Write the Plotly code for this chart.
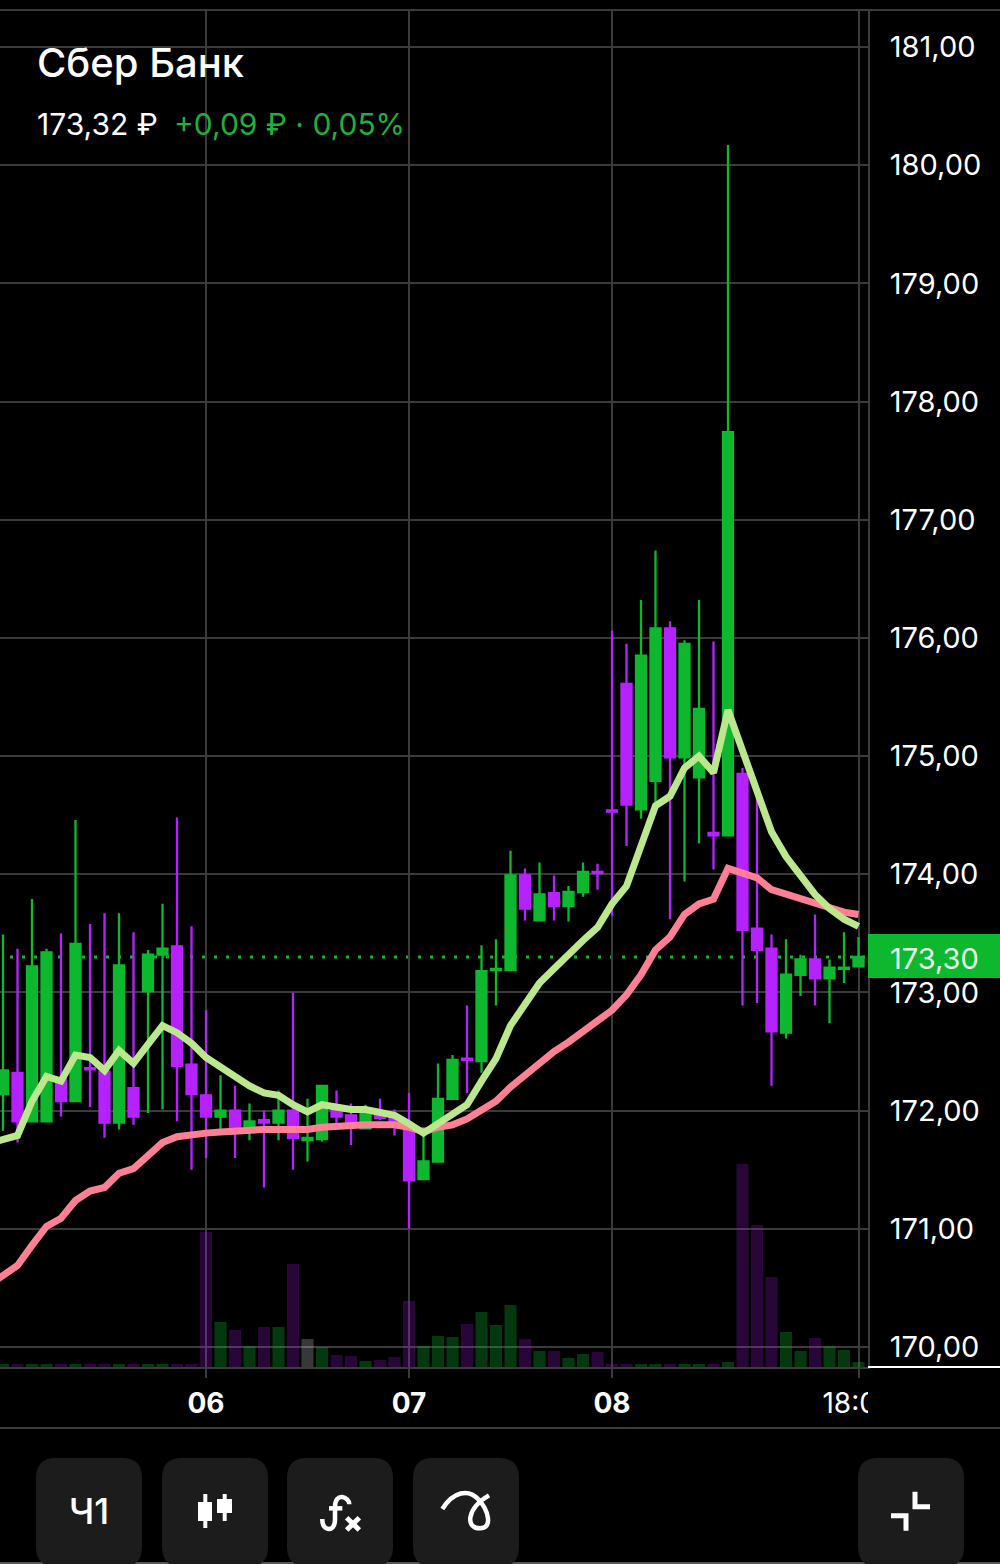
import plotly.graph_objects as go

# Candle index -1 is just off-screen; it only carries the averages to the left edge.
idx = list(range(-1, 60))
opens = [171.90,172.14,172.32,171.91,171.91,172.27,172.08,172.36,172.33,171.90,172.19,173.01,173.32,173.39,172.39,172.13,171.95,172.00,171.85,171.92,171.90,
         172.00,171.75,171.76,172.01,171.96,171.85,171.96,171.94,171.88,171.42,171.57,172.10,172.44,172.42,173.19,173.19,173.99,173.61,173.84,173.73,173.85,
         174.02,174.54,175.61,174.55,174.79,176.08,174.99,174.82,174.35,174.33,174.85,173.54,173.37,172.66,173.15,173.28,173.12,173.20,173.22]
closes = [172.10,172.34,171.91,173.22,173.34,172.08,173.41,172.35,171.90,173.23,171.95,173.32,173.37,172.38,172.14,171.95,172.00,171.85,171.91,171.90,172.00,
          171.77,171.77,172.21,171.95,171.89,172.02,171.94,171.88,171.41,171.57,172.10,172.43,172.43,173.18,173.20,173.99,173.71,173.83,173.73,173.85,174.02,
          174.01,174.53,174.59,175.85,176.08,174.99,175.95,175.40,174.33,177.74,173.53,173.36,172.67,173.15,173.28,173.12,173.21,173.21,173.30]
highs = [172.30,173.49,173.37,173.79,173.37,173.50,174.46,173.58,173.67,173.67,173.51,173.36,173.75,174.48,173.56,172.85,172.30,172.21,172.06,172.00,172.17,
         173.00,172.10,172.21,172.17,172.06,172.05,172.10,172.01,172.15,171.86,172.40,172.47,172.89,173.40,173.45,174.20,174.05,174.10,173.99,173.90,174.10,
         174.09,176.06,175.95,176.32,176.74,176.14,175.98,176.32,175.97,180.17,174.90,174.66,173.49,173.45,173.32,173.66,173.28,173.51,173.47]
lows = [171.70,171.83,171.73,171.91,171.91,171.95,172.08,172.03,171.77,171.84,171.88,171.98,172.01,171.91,171.50,171.60,171.84,171.60,171.75,171.35,171.75,
        171.50,171.57,171.74,171.89,171.71,171.84,171.92,171.79,171.00,171.42,171.57,172.10,172.15,172.32,172.89,173.19,173.61,173.61,173.61,173.60,173.81,
        173.87,173.65,174.24,174.47,174.60,173.62,173.94,174.26,174.04,174.33,172.89,172.91,172.21,172.61,172.97,172.89,172.74,173.08,173.22]
avg_fast = [171.72,171.76,171.79,172.08,172.29,172.25,172.47,172.45,172.34,172.51,172.40,172.56,172.72,172.66,172.57,172.45,172.37,172.28,172.21,172.15,172.13,
            172.05,171.99,172.05,172.03,172.01,172.01,171.99,171.96,171.89,171.81,171.89,171.97,172.05,172.25,172.44,172.72,172.91,173.08,173.20,173.33,173.44,
            173.55,173.75,173.90,174.23,174.58,174.66,174.90,175.00,174.86,175.39,175.05,174.71,174.36,174.15,173.98,173.83,173.71,173.62,173.56]
avg_slow = [170.52,170.60,170.69,170.86,171.02,171.09,171.24,171.32,171.35,171.47,171.51,171.62,171.73,171.78,171.80,171.81,171.82,171.83,171.83,171.84,171.84,
            171.84,171.84,171.86,171.87,171.87,171.88,171.88,171.88,171.86,171.82,171.86,171.88,171.93,172.00,172.08,172.20,172.30,172.40,172.50,172.58,172.67,
            172.75,172.85,172.98,173.15,173.36,173.47,173.66,173.75,173.79,174.05,174.01,173.97,173.87,173.83,173.79,173.75,173.71,173.68,173.66]
volumes = [3,3,3,3,3,3,3,3,3,3,3,3,3,3,3,135,45,37,21,40,40,103,28,20,12,11,6,7,10,66,21,31,30,43,55,42,62,28,16,16,9,13,15,3,3,3,3,3,3,3,3,5,203,142,90,35,16,29,21,17,5]
# Candle index 21 has a grey volume bar in the picture.
neutral_volume = [21]

price_ticks = [181,180,179,178,177,176,175,174,173,172,171,170]
price_labels = ["181,00","180,00","179,00","178,00","177,00","176,00","175,00","174,00","173,00","172,00","171,00","170,00"]
date_ticks = [14,28,42,59]
date_labels = ["<b>06</b>","<b>07</b>","<b>08</b>","18:00"]
last_price = 173.30

GREEN = "#0DB82F"
PURPLE = "#B622FF"
LIME = "#BBE88C"
PINK = "#FF7F94"
GRID = "#3B3B3B"
FONT = "Inter"
BTN = "#1C1C1C"

def px(x): return x / 1000
def py(y): return 1 - y / 1564

def path(cmds):
    out = []
    for c in cmds:
        if isinstance(c, str):
            out.append(c)
        else:
            out.append(f"{px(c[0]):.5f},{py(c[1]):.5f}")
    return " ".join(out)

vol_colors = []
for k, (i, o, c) in enumerate(zip(idx, opens, closes)):
    if i in neutral_volume:
        vol_colors.append("rgba(255,255,255,0.22)")
    elif c >= o:
        vol_colors.append("rgba(13,184,47,0.30)")
    else:
        vol_colors.append("rgba(182,34,255,0.22)")

fig = go.Figure()
fig.add_trace(go.Bar(x=idx, y=volumes, marker=dict(color=vol_colors, line=dict(width=0)), yaxis="y2", showlegend=False, hoverinfo="skip"))
fig.add_trace(go.Candlestick(x=idx, open=opens, high=highs, low=lows, close=closes,
    increasing=dict(line=dict(color=GREEN, width=2.3), fillcolor=GREEN),
    decreasing=dict(line=dict(color=PURPLE, width=2.3), fillcolor=PURPLE),
    whiskerwidth=0, showlegend=False, hoverinfo="skip"))
fig.add_trace(go.Scatter(x=idx, y=avg_slow, mode="lines", line=dict(color=PINK, width=7), showlegend=False, hoverinfo="skip"))
fig.add_trace(go.Scatter(x=idx, y=avg_fast, mode="lines", line=dict(color=LIME, width=7), showlegend=False, hoverinfo="skip"))

shapes = []
def hline(x0, x1, y, color=GRID, w=2, layer="below"):
    shapes.append(dict(type="line", xref="paper", yref="paper", x0=px(x0), x1=px(x1), y0=py(y), y1=py(y), line=dict(color=color, width=w), layer=layer))

hline(0, 1000, 10)
hline(0, 1000, 1428)
hline(0, 1000, 1563, "#555555", 2)
hline(868, 1000, 1367, "#FFFFFF", 2, "above")
# last-price dotted line
shapes.append(dict(type="line", xref="paper", yref="y", x0=px(10), x1=px(868), y0=last_price, y1=last_price,
                   line=dict(color=GREEN, width=3, dash="3px,9px"), layer="below"))
# price tag and clip of the time label
shapes.append(dict(type="rect", xref="paper", yref="paper", x0=px(868), x1=1, y0=py(978), y1=py(934), fillcolor=GREEN, line=dict(width=0), layer="above"))
shapes.append(dict(type="rect", xref="paper", yref="paper", x0=px(868), x1=1, y0=py(1420), y1=py(1385), fillcolor="#000000", line=dict(width=0), layer="above"))

# toolbar buttons
r = 20
for left in [36, 162, 287, 413, 858]:
    right, top, bot = left + 106, 1458, 1567
    shapes.append(dict(type="path", xref="paper", yref="paper", fillcolor=BTN, line=dict(width=0), layer="below",
        path=path(["M", (left + r, top), "L", (right - r, top), "Q", (right, top), (right, top + r), "L", (right, bot - r),
                   "Q", (right, bot), (right - r, bot), "L", (left + r, bot), "Q", (left, bot), (left, bot - r),
                   "L", (left, top + r), "Q", (left, top), (left + r, top), "Z"])))

def icon(cmds, w=4.5, fill=None):
    d = dict(type="path", xref="paper", yref="paper", path=path(cmds), line=dict(color="#FFFFFF", width=w), layer="above")
    if fill:
        d["fillcolor"] = fill
        d["line"] = dict(width=0)
    shapes.append(d)

# candles icon
icon(["M", (205.3, 1494), "L", (205.3, 1528)], 4)
icon(["M", (224.7, 1494), "L", (224.7, 1521)], 4)
icon(["M", (198, 1502), "L", (212, 1502), "L", (212, 1521), "L", (198, 1521), "Z"], fill="#FFFFFF")
icon(["M", (217, 1499), "L", (232, 1499), "L", (232, 1513), "L", (217, 1513), "Z"], fill="#FFFFFF")
# f(x) icon
def fx(zx, zy): return (280 + zx / 3, 1450 + zy / 3)
icon(["M", fx(208, 163), "C", fx(208, 140), fx(165, 125), fx(165, 170), "L", fx(165, 210), "C", fx(165, 248), fx(125, 245), fx(127, 207)], 4.5)
icon(["M", fx(147, 175), "L", fx(187, 175)], 4.5)
icon(["M", fx(200, 203), "L", fx(238, 240)], 5)
icon(["M", fx(238, 203), "L", fx(200, 240)], 5)
# drawing icon
icon(["M", fx(487, 177), "C", fx(520, 125), fx(565, 115), fx(595, 148), "C", fx(625, 180), fx(640, 235), fx(600, 235),
      "C", fx(555, 235), fx(560, 175), fx(627, 136)], 4.5)
# collapse icon
def cx(zx, zy): return (850 + zx / 3, 1450 + zy / 3)
icon(["M", cx(195, 125), "L", cx(195, 170), "L", cx(240, 170)], 5)
icon(["M", cx(123, 197), "L", cx(168, 197), "L", cx(168, 242)], 5)

def note(x, y, text, size, color="#FFFFFF", anchor="left", weight=None):
    f = dict(family=FONT, size=size, color=color)
    if weight:
        f["weight"] = weight
    return dict(xref="paper", yref="paper", x=px(x), y=py(y), text=text, showarrow=False, xanchor=anchor, yanchor="middle", font=f)

annotations = [
    note(35, 63, "Сбер Банк", 40, weight=500),
    note(35, 124, "173,32 ₽", 30),
    note(172, 124, "+0,09 ₽ · 0,05%", 30, "#1FAF3C"),
    note(888, 958, "173,30", 29, "#E9FBEA"),
    note(89, 1511, "Ч1", 36, anchor="center", weight=500),
]

fig.update_layout(
    width=1000, height=1564, autosize=False,
    margin=dict(l=0, r=0, t=0, b=0, autoexpand=False),
    paper_bgcolor="#000000", plot_bgcolor="#000000",
    boxgap=0.15, boxgroupgap=0.19, bargap=0.17, showlegend=False,
    xaxis=dict(domain=[0, 0.868], range=[-0.2069, 59.655], rangeslider=dict(visible=False),
               tickmode="array", tickvals=date_ticks, ticktext=date_labels, tickangle=0,
               showgrid=True, gridcolor=GRID, gridwidth=2, zeroline=False,
               ticks="outside", ticklen=9, tickcolor=GRID, tickwidth=2,
               showline=True, linecolor=GRID, linewidth=2,
               tickfont=dict(family=FONT, size=28, color="#FFFFFF"), ticklabelstandoff=1),
    yaxis=dict(domain=[py(1367), py(10)], range=[169.831, 181.313], side="right",
               tickmode="array", tickvals=price_ticks, ticktext=price_labels,
               showgrid=True, gridcolor=GRID, gridwidth=2, zeroline=False,
               ticks="", showline=True, linecolor=GRID, linewidth=2,
               tickfont=dict(family=FONT, size=29, color="#FFFFFF"), ticklabelstandoff=14),
    yaxis2=dict(domain=[py(1367), py(10)], range=[0, 1357], overlaying="y", side="left", visible=False),
    shapes=shapes, annotations=annotations,
)

fig.write_html("out.html", config=dict(displayModeBar=False),
               post_script="document.body.style.margin='0';document.body.style.background='#000';")
